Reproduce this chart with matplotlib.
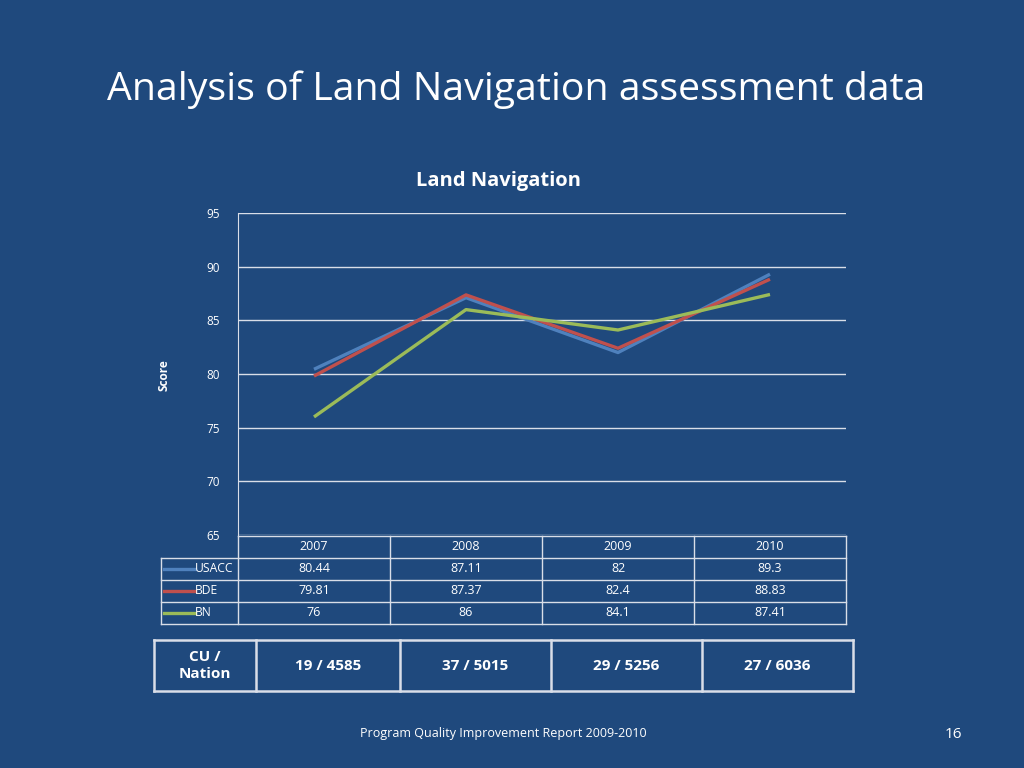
import matplotlib.pyplot as plt
from matplotlib.lines import Line2D

plt.rcParams['font.family'] = ['Open Sans', 'DejaVu Sans']

years = ['2007', '2008', '2009', '2010']
usacc = [80.44, 87.11, 82, 89.3]
bde = [79.81, 87.37, 82.4, 88.83]
bn = [76, 86, 84.1, 87.41]
series_names = ['USACC', 'BDE', 'BN']
cu_nation = ['19 / 4585', '37 / 5015', '29 / 5256', '27 / 6036']

bg = '#1F497D'
colors = ['#4F81BD', '#C0504D', '#9BBB59']
grid_col = '#D9DEE8'

W, H = 1024, 768
fig = plt.figure(figsize=(10.24, 7.68), dpi=100, facecolor=bg)


def fx(px):
    return px / W


def fy(py):
    return 1 - py / H


def hline(x0, x1, y, lw=1.0, c=grid_col):
    fig.add_artist(Line2D([fx(x0), fx(x1)], [fy(y), fy(y)], color=c, lw=lw))


def vline(x, y0, y1, lw=1.0, c=grid_col):
    fig.add_artist(Line2D([fx(x), fx(x)], [fy(y0), fy(y1)], color=c, lw=lw))


fig.text(fx(516), fy(90), 'Analysis of Land Navigation assessment data',
         color='white', fontsize=28.3, ha='center', va='center')

# plot area
ax_l, ax_r, ax_t, ax_b = 238, 846, 213, 535
ax = fig.add_axes([fx(ax_l), fy(ax_b), fx(ax_r - ax_l), (ax_b - ax_t) / H])
ax.set_facecolor(bg)
x = range(len(years))
for vals, c in zip([usacc, bde, bn], colors):
    ax.plot(x, vals, color=c, lw=2.4, solid_capstyle='butt')
ax.set_xlim(-0.5, len(years) - 0.5)
ax.set_ylim(65, 95)
ax.set_yticks(range(65, 96, 5))
ax.yaxis.grid(True, color=grid_col, lw=1.0)
ax.set_axisbelow(True)
for s in ['top', 'right', 'bottom']:
    ax.spines[s].set_visible(False)
ax.spines['left'].set_color(grid_col)
ax.tick_params(axis='y', colors='white', length=0, pad=13, labelsize=8.5)
ax.tick_params(axis='x', length=0, labelbottom=False)
for lab in ax.get_yticklabels():
    lab.set_color('white')

fig.text(fx(164), fy(375), 'Score', color='white', fontsize=8.5, fontweight='bold',
         rotation=90, ha='center', va='center')
fig.text(fx(499), fy(181), 'Land Navigation', color='white', fontsize=14.5,
         fontweight='bold', ha='center', va='center')

# data table
col_w = (ax_r - ax_l) / len(years)
rows_y = [536, 558, 580, 602, 624]
leg_l = 161
hline(ax_l, ax_r, rows_y[0])
for yy in rows_y[1:]:
    hline(leg_l, ax_r, yy)
for i in range(len(years) + 1):
    vline(ax_l + i * col_w, rows_y[0], rows_y[-1])
vline(leg_l, rows_y[1], rows_y[-1])
for i, yr in enumerate(years):
    fig.text(fx(ax_l + (i + 0.5) * col_w), fy((rows_y[0] + rows_y[1]) / 2), yr,
             color='white', fontsize=9, ha='center', va='center')
for r, (name, vals, c) in enumerate(zip(series_names, [usacc, bde, bn], colors)):
    yc = (rows_y[r + 1] + rows_y[r + 2]) / 2
    fig.add_artist(Line2D([fx(164), fx(195)], [fy(yc), fy(yc)], color=c, lw=2.4))
    fig.text(fx(195), fy(yc), name, color='white', fontsize=8.7, ha='left', va='center')
    for i, v in enumerate(vals):
        fig.text(fx(ax_l + (i + 0.5) * col_w), fy(yc), f'{v:g}',
                 color='white', fontsize=9, ha='center', va='center')

# CU / Nation table
t_top, t_bot = 640, 691
t_cols = [154, 256, 400, 551, 702, 853]
for yy in [t_top, t_bot]:
    hline(t_cols[0], t_cols[-1], yy, lw=1.8)
for xx in t_cols:
    vline(xx, t_top, t_bot, lw=1.8)
yc = (t_top + t_bot) / 2
fig.text(fx((t_cols[0] + t_cols[1]) / 2), fy(yc), 'CU /\nNation', color='white',
         fontsize=11, fontweight='bold', ha='center', va='center', linespacing=1.3)
for i, s in enumerate(cu_nation):
    fig.text(fx((t_cols[i + 1] + t_cols[i + 2]) / 2), fy(yc), s, color='white',
             fontsize=11, fontweight='bold', ha='center', va='center')

fig.text(fx(503), fy(733), 'Program Quality Improvement Report 2009-2010',
         color='white', fontsize=9, ha='center', va='center')
fig.text(fx(953), fy(734), '16', color='white', fontsize=11, ha='center', va='center')

fig.savefig('out.png', dpi=100, facecolor=bg)
